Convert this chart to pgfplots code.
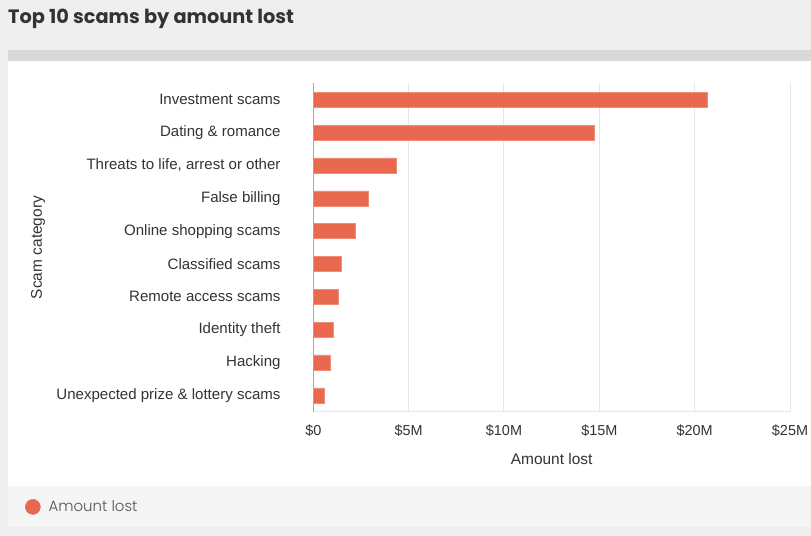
\documentclass[border=0pt]{standalone}
\usepackage{fontspec}
\setmainfont{Liberation Sans}
\newfontfamily\popp{Poppins}
\newfontfamily\poppl{Poppins Light}
\usepackage{pgfplots}
\pgfplotsset{compat=1.18}
\definecolor{barcol}{HTML}{E86850}
\definecolor{baredge}{HTML}{F08C78}
\definecolor{bgout}{HTML}{EFEFEF}
\definecolor{strip}{HTML}{D9D9D9}
\definecolor{legbg}{HTML}{F5F5F5}
\definecolor{txt}{HTML}{333333}
\definecolor{legtxt}{HTML}{555555}
\definecolor{gridc}{HTML}{E6E6E6}
\definecolor{yaxc}{HTML}{AAAAAA}
\begin{document}
\begin{tikzpicture}
\begin{scope}[x=1bp,y=1bp,shift={(-313.3bp,-124.3bp)}]
\fill[bgout] (0,0) rectangle (811,536);
\fill[strip] (8,486) rectangle (811,475);
\fill[white] (8,475) rectangle (811,50);
\fill[legbg] (8,50) rectangle (811,9);
\node[anchor=base west, inner sep=0pt, font=\popp\bfseries\fontsize{19.4}{21}\selectfont, text=txt] at (8,512.7) {Top 10 scams by amount lost};
\end{scope}
\begin{axis}[
  at={(0pt,0pt)}, anchor=south west,
  width=476.7bp, height=328.3bp, scale only axis,
  xmin=0, xmax=25, ymin=-0.5, ymax=9.5,
  xbar, bar width=15bp,
  xtick={0,5,10,15,20,25},
  xticklabels={\$0,\$5M,\$10M,\$15M,\$20M,\$25M},
  ytick={0,1,2,3,4,5,6,7,8,9},
  yticklabels={Unexpected prize \& lottery scams, Hacking, Identity theft, Remote access scams, Classified scams, Online shopping scams, False billing, {Threats to life, arrest or other}, Dating \& romance, Investment scams},
  major tick length=0pt,
  xmajorgrids, grid style={draw=gridc, line width=1bp},
  axis x line*=bottom, axis y line*=left,
  x axis line style={draw=gridc, line width=1bp},
  y axis line style={draw=yaxc, line width=1bp},
  every tick label/.append style={text=txt, inner sep=0pt},
  yticklabel style={font=\fontsize{15.1}{16}\selectfont, xshift=-32.6bp},
  xticklabel style={font=\fontsize{14.5}{15}\selectfont, yshift=-13bp},
  xlabel={Amount lost}, ylabel={Scam category},
  label style={font=\fontsize{15.5}{16}\selectfont, text=txt, inner sep=0pt},
  xlabel style={at={(axis description cs:0.5,-0.144)}, anchor=center},
  ylabel style={at={(axis description cs:-0.5775,0.5)}, anchor=center, rotate=0},
  legend style={at={(axis description cs:-0.605,-0.290)}, anchor=west, draw=none, fill=none, inner sep=0pt, font=\poppl\fontsize{15}{16}\selectfont, text=legtxt, nodes={inner sep=0pt}, /tikz/every odd column/.append style={column sep=8bp}},
  legend image code/.code={\fill[barcol] (7.5bp,0bp) circle (7.5bp);},
  clip=false,
]
\addplot[fill=barcol, draw=baredge, line width=0.5bp] coordinates {
(0.56,0) (0.89,1) (1.02,2) (1.33,3) (1.47,4) (2.20,5) (2.89,6) (4.35,7) (14.73,8) (20.67,9)
};
\addlegendentry{Amount lost}
\end{axis}
\end{tikzpicture}
\end{document}
